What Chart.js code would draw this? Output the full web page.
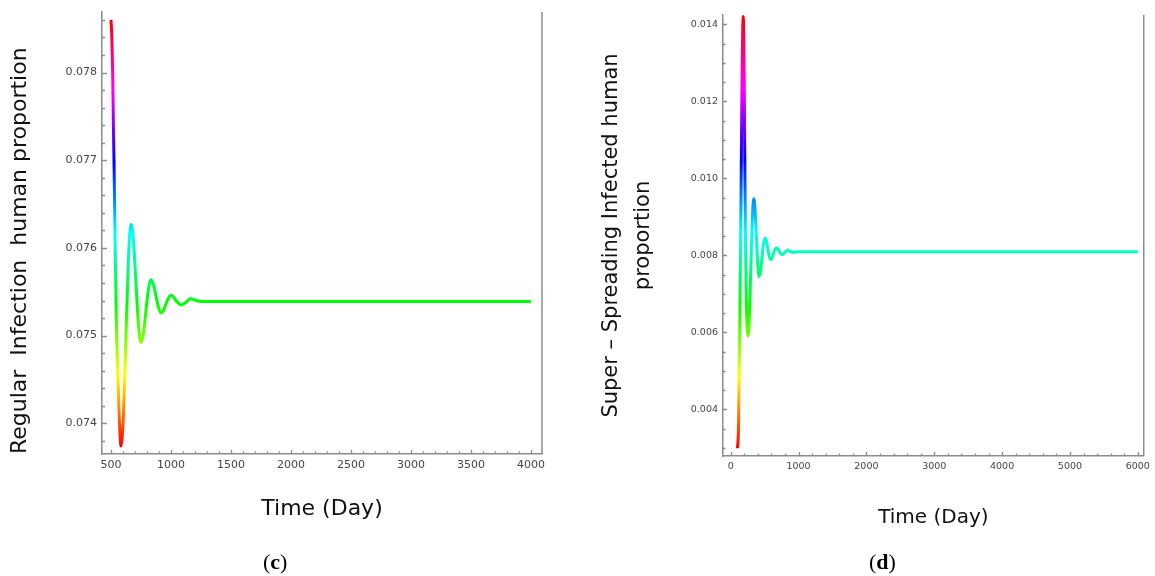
<!DOCTYPE html>
<html>
<head>
<meta charset="utf-8">
<script src="https://cdn.jsdelivr.net/npm/chart.js@4/dist/chart.umd.min.js"></script>
<style>
  html, body { margin: 0; padding: 0; background: #fff; }
  #wrap { position: relative; width: 1155px; height: 576px; overflow: hidden; }
  #c1 { position: absolute; left: 0; top: 0; }
  #c2 { position: absolute; left: 580px; top: 0; }
  .panel { position: absolute; font-family: "Liberation Serif", serif; font-size: 22px; color: #000; }
  .panel b { font-weight: bold; }
</style>
</head>
<body>
<div id="wrap">
  <canvas id="c1" width="580" height="576"></canvas>
  <canvas id="c2" width="575" height="576"></canvas>
  <div class="panel" style="left:263px; top:549px;">(<b>c</b>)</div>
  <div class="panel" style="left:869px; top:549px;">(<b>d</b>)</div>
</div>
<script>
// ---- (c) Regular infection human proportion ----
const regularTime = [500, 507, 514, 520, 525, 530, 535, 541, 547, 554, 561, 568, 576, 583,
  604, 625, 646, 667, 688, 708, 729, 750, 771, 791, 812, 833, 854, 875, 896, 917, 938, 958,
  979, 1000, 1021, 1041, 1062, 1083, 1104, 1125, 1146, 1167, 1208, 1250, 1500, 2000, 2500,
  3000, 3500, 4000];
const regularValue = [0.0786, 0.0784, 0.0780, 0.0774, 0.0770, 0.0765, 0.0760, 0.0755, 0.0750,
  0.0747, 0.0744, 0.0741, 0.07385, 0.07374, 0.07411, 0.07500, 0.07590, 0.07627, 0.07607,
  0.07560, 0.07512, 0.07492, 0.07503, 0.07528, 0.07553, 0.07564, 0.07558, 0.07545, 0.07532,
  0.07526, 0.07529, 0.07536, 0.07543, 0.07546, 0.07544, 0.07540, 0.07537, 0.07535, 0.07536,
  0.07538, 0.07541, 0.07542, 0.07540, 0.07539, 0.07539, 0.07539, 0.07539, 0.07539, 0.07539,
  0.07539];
const regularXTicks = [500, 1000, 1500, 2000, 2500, 3000, 3500, 4000];
const regularYTicks = [0.074, 0.075, 0.076, 0.077, 0.078];

// ---- (d) Super-spreading infected human proportion ----
const superTime = [100, 115, 122, 130, 138, 146, 154, 162, 170, 178, 185, 192, 200, 207, 214,
  222, 232, 243, 255, 276, 298, 319, 341, 360, 380, 400, 419, 441, 462, 484, 506, 527, 547,
  568, 589, 610, 630, 651, 672, 694, 716, 738, 760, 780, 799, 818, 838, 880, 920, 1000, 2000,
  3000, 4000, 5000, 6000];
const superValue = [0.00299, 0.0035, 0.0045, 0.0055, 0.0068, 0.0082, 0.0098, 0.0115, 0.0130,
  0.0139, 0.0142, 0.0138, 0.0125, 0.0108, 0.0093, 0.0079, 0.0067, 0.0061, 0.0059, 0.00642,
  0.00774, 0.00895, 0.00947, 0.00917, 0.00846, 0.00774, 0.00745, 0.00760, 0.00795, 0.00830,
  0.00845, 0.00837, 0.00817, 0.00797, 0.00789, 0.00793, 0.00804, 0.00815, 0.00819, 0.00817,
  0.00810, 0.00804, 0.00802, 0.00804, 0.00808, 0.00811, 0.00813, 0.00810, 0.00808, 0.00809,
  0.00809, 0.00809, 0.00809, 0.00809, 0.00809];
const superXTicks = [0, 1000, 2000, 3000, 4000, 5000, 6000];
const superYTicks = [0.004, 0.006, 0.008, 0.010, 0.012, 0.014];

const AXIS_COLOR = '#8c8c8c';
const LABEL_COLOR = '#444';

// Hue colour function over the y-range of the data (Mathematica-like)
function hueGradient(values) {
  const vMin = Math.min(...values), vMax = Math.max(...values);
  return function (context) {
    const chart = context.chart;
    const area = chart.chartArea;
    if (!area) return '#00ff00';
    const y = chart.scales.y;
    const g = chart.ctx.createLinearGradient(0, y.getPixelForValue(vMin), 0, y.getPixelForValue(vMax));
    for (let i = 0; i <= 6; i++) g.addColorStop(i / 6, 'hsl(' + (i * 60) + ',100%,50%)');
    return g;
  };
}

// Inward major/minor ticks + right frame line
const frameTicks = {
  id: 'frameTicks',
  afterDraw(chart, args, opts) {
    const ctx = chart.ctx, a = chart.chartArea;
    const xs = chart.scales.x, ys = chart.scales.y;
    ctx.save();
    ctx.strokeStyle = AXIS_COLOR;
    ctx.lineWidth = 1.3;
    ctx.beginPath();
    const isMajor = (v, step) => Math.abs(v / step - Math.round(v / step)) < 1e-6;
    for (let k = Math.ceil(xs.min / opts.xMinor); k * opts.xMinor <= xs.max + 1e-9; k++) {
      const v = k * opts.xMinor;
      const px = Math.round(xs.getPixelForValue(v)) + 0.5;
      const len = isMajor(v, opts.xMajor) ? opts.xMajLen : opts.xMinLen;
      ctx.moveTo(px, a.bottom);
      ctx.lineTo(px, a.bottom - len);
    }
    for (let k = Math.ceil(ys.min / opts.yMinor - 1e-6); k * opts.yMinor <= ys.max + 1e-12; k++) {
      const v = k * opts.yMinor;
      const py = Math.round(ys.getPixelForValue(v)) + 0.5;
      const len = isMajor(v, opts.yMajor) ? opts.yMajLen : opts.yMinLen;
      ctx.moveTo(a.left, py);
      ctx.lineTo(a.left + len, py);
    }
    ctx.stroke();
    ctx.lineWidth = 1.5;
    ctx.beginPath();
    ctx.moveTo(a.right, a.top);
    ctx.lineTo(a.right, a.bottom);
    ctx.stroke();
    ctx.restore();
  }
};

function makeChart(canvasId, times, values, cfg) {
  const points = times.map((t, i) => ({ x: t, y: values[i] }));
  return new Chart(document.getElementById(canvasId), {
    type: 'line',
    data: {
      datasets: [{
        data: points,
        borderColor: hueGradient(values),
        borderWidth: 3,
        pointRadius: 0,
        fill: false,
        cubicInterpolationMode: 'monotone',
        clip: 6
      }]
    },
    options: {
      responsive: false,
      animation: false,
      devicePixelRatio: 1,
      layout: { padding: cfg.padding },
      plugins: {
        legend: { display: false },
        tooltip: { enabled: false },
        frameTicks: cfg.ticks
      },
      scales: {
        x: {
          type: 'linear',
          min: cfg.xMin, max: cfg.xMax,
          afterBuildTicks: s => { s.ticks = cfg.xTicks.map(v => ({ value: v })); },
          afterFit: s => { s.height = cfg.xHeight; },
          grid: { display: false, drawTicks: false },
          border: { display: true, color: AXIS_COLOR, width: 1.5 },
          ticks: {
            color: LABEL_COLOR, padding: cfg.xPad, maxRotation: 0, autoSkip: false,
            font: { family: 'DejaVu Sans', size: cfg.tickSize },
            callback: v => String(v)
          },
          title: {
            display: true, text: 'Time (Day)', color: '#111',
            font: { family: 'DejaVu Sans', size: cfg.xTitleSize },
            padding: { top: 0, bottom: 0 }
          }
        },
        y: {
          type: 'linear',
          min: cfg.yMin, max: cfg.yMax,
          afterBuildTicks: s => { s.ticks = cfg.yTicks.map(v => ({ value: v })); },
          afterFit: s => { s.width = cfg.yWidth; },
          grid: { display: false, drawTicks: false },
          border: { display: true, color: AXIS_COLOR, width: 1.5 },
          ticks: {
            color: LABEL_COLOR, padding: cfg.yPad, autoSkip: false,
            font: { family: 'DejaVu Sans', size: cfg.tickSize },
            callback: v => Number(v).toFixed(3)
          },
          title: {
            display: true, text: cfg.yTitle, color: '#111', align: cfg.yTitleAlign,
            font: { family: 'DejaVu Sans', size: cfg.yTitleSize, lineHeight: 1.5 },
            padding: { top: cfg.yTitlePad, bottom: 0 }
          }
        }
      }
    },
    plugins: [frameTicks]
  });
}

makeChart('c1', regularTime, regularValue, {
  padding: { left: 0, top: 12, right: 38, bottom: 54 },
  xMin: 425, xMax: 4092, yMin: 0.07365, yMax: 0.07869,
  xTicks: regularXTicks, yTicks: regularYTicks,
  xHeight: 68, yWidth: 102, xPad: 5, yPad: 5, tickSize: 11,
  xTitleSize: 22, yTitleSize: 22, yTitlePad: 4, yTitleAlign: 'start',
  yTitle: 'Regular  Infection  human proportion',
  ticks: { xMinor: 100, xMajor: 500, yMinor: 0.0002, yMajor: 0.001, xMajLen: 4, xMinLen: 2.5, yMajLen: 5, yMinLen: 3 }
});

makeChart('c2', superTime, superValue, {
  padding: { left: 0, top: 15, right: 8, bottom: 46 },
  xMin: -113, xMax: 6088, yMin: 0.00279, yMax: 0.01424,
  xTicks: superXTicks, yTicks: superYTicks,
  xHeight: 74, yWidth: 143, xPad: 5, yPad: 5, tickSize: 9.5,
  xTitleSize: 20, yTitleSize: 21, yTitlePad: 16, yTitleAlign: 'center',
  yTitle: ['Super \u2013 Spreading Infected human', 'proportion'],
  ticks: { xMinor: 200, xMajor: 1000, yMinor: 0.0005, yMajor: 0.002, xMajLen: 4, xMinLen: 2.5, yMajLen: 4, yMinLen: 2.5 }
});
</script>
</body>
</html>
